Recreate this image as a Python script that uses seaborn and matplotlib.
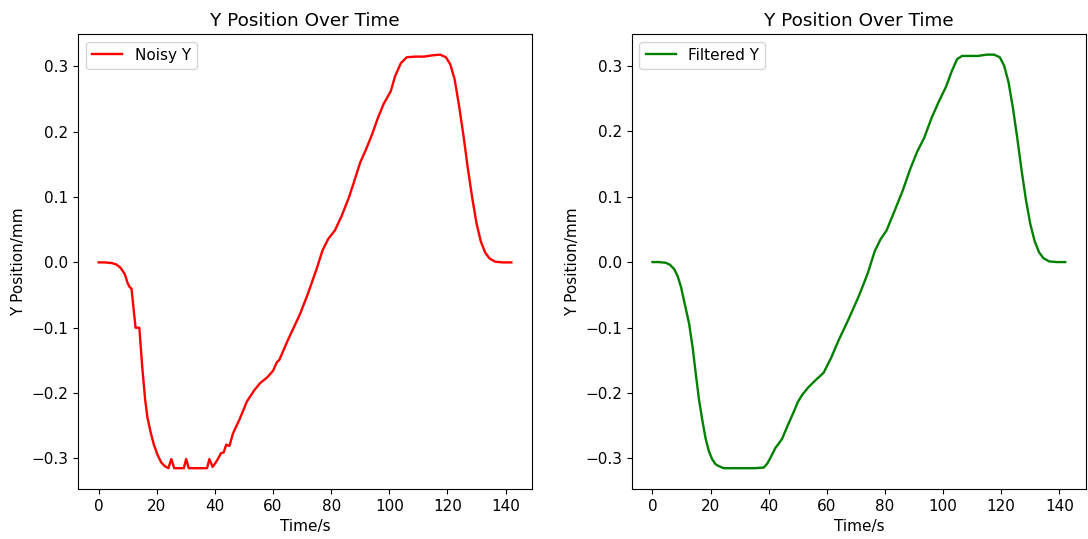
import pandas as pd
import matplotlib.pyplot as plt
import seaborn as sns

# noisy signal
time_noisy = [0, 2, 4.5, 6, 7.5, 9, 10, 10.7, 11.3, 12.7, 14, 15, 16, 16.8, 18, 19,
              20.3, 21.5, 22.8, 24, 25, 26, 29.3, 30.1, 31, 37.3, 38.1, 39.2, 40.5,
              42.1, 43, 43.9, 45, 46.2, 48.5, 51, 53.5, 55.5, 58, 60, 61.3, 62.2, 65,
              69.3, 72, 75, 77, 79, 81.3, 83.5, 86, 88, 90, 92, 94, 96, 98, 100.5,
              102, 104, 106, 109, 112, 115, 117.5, 119.5, 121, 122.5, 124, 125.5,
              127, 128.5, 130, 131.5, 133, 134.5, 136.5, 139, 142]
y_noisy = [0, 0, -0.001, -0.003, -0.008, -0.018, -0.032, -0.038, -0.04, -0.1, -0.1,
           -0.16, -0.21, -0.238, -0.262, -0.279, -0.295, -0.306, -0.312, -0.315,
           -0.301, -0.315, -0.315, -0.301, -0.315, -0.315, -0.301, -0.313, -0.305,
           -0.292, -0.291, -0.279, -0.281, -0.262, -0.24, -0.213, -0.196, -0.185,
           -0.176, -0.166, -0.153, -0.149, -0.12, -0.079, -0.048, -0.01, 0.018,
           0.036, 0.049, 0.07, 0.098, 0.125, 0.153, 0.173, 0.195, 0.22, 0.242,
           0.262, 0.285, 0.305, 0.314, 0.315, 0.315, 0.317, 0.318, 0.314, 0.303,
           0.28, 0.24, 0.195, 0.145, 0.1, 0.06, 0.032, 0.015, 0.006, 0.001, 0, 0]

# filtered signal (right panel)
time_filtered = [0, 2, 4.5, 6, 7.5, 8.7, 9.8, 11, 12.6, 13.8, 14.9, 16, 17.2, 18.3,
                 19.4, 20.5, 21.7, 22.9, 24.5, 26.3, 30, 35, 38.3, 39.5, 40.6, 42.3,
                 43.5, 44.6, 46.5, 48.5, 50, 51.5, 53.5, 56, 58.9, 61.5, 64, 67.5,
                 70.9, 74, 76.5, 78.5, 80.5, 83, 86, 88.5, 91, 93.5, 96, 98.5, 101,
                 103, 104.8, 106.5, 109, 112, 115, 117.5, 119.5, 121, 122.5, 124,
                 125.5, 127, 128.5, 130, 131.5, 133, 134.5, 136.5, 139, 142]
y_filtered = [0, 0, -0.001, -0.004, -0.011, -0.022, -0.038, -0.062, -0.094, -0.13,
              -0.171, -0.21, -0.243, -0.27, -0.289, -0.301, -0.309, -0.312, -0.315,
              -0.315, -0.315, -0.315, -0.314, -0.308, -0.299, -0.284, -0.277, -0.27,
              -0.25, -0.23, -0.214, -0.203, -0.192, -0.181, -0.169, -0.146, -0.12,
              -0.087, -0.053, -0.018, 0.017, 0.035, 0.048, 0.075, 0.108, 0.14, 0.168,
              0.19, 0.22, 0.245, 0.268, 0.292, 0.31, 0.315, 0.315, 0.315, 0.317,
              0.317, 0.313, 0.3, 0.275, 0.236, 0.19, 0.14, 0.095, 0.058, 0.032, 0.015,
              0.006, 0.001, 0, 0]

df_noisy = pd.DataFrame({"time": time_noisy, "y": y_noisy})
df_filtered = pd.DataFrame({"time": time_filtered, "y": y_filtered})

plt.rcParams["font.size"] = 11
plt.rcParams["axes.titlesize"] = 13.2

fig, axes = plt.subplots(1, 2, figsize=(10.88, 5.39), dpi=100)
plt.subplots_adjust(left=0.0717, right=0.998, top=0.937, bottom=0.093, wspace=0.22)

panels = [(df_noisy, "red", "Noisy Y"), (df_filtered, "green", "Filtered Y")]
for ax, (df, color, label) in zip(axes, panels):
    sns.lineplot(data=df, x="time", y="y", ax=ax, color=color, label=label,
                 estimator=None, linewidth=1.7)
    ax.set_title("Y Position Over Time")
    ax.set_xlabel("Time/s")
    ax.set_ylabel("Y Position/mm")
    ax.set_xticks([0, 20, 40, 60, 80, 100, 120, 140])
    ax.set_yticks([-0.3, -0.2, -0.1, 0.0, 0.1, 0.2, 0.3])
    ax.legend(loc="upper left")

plt.savefig("out.png")
plt.close()
